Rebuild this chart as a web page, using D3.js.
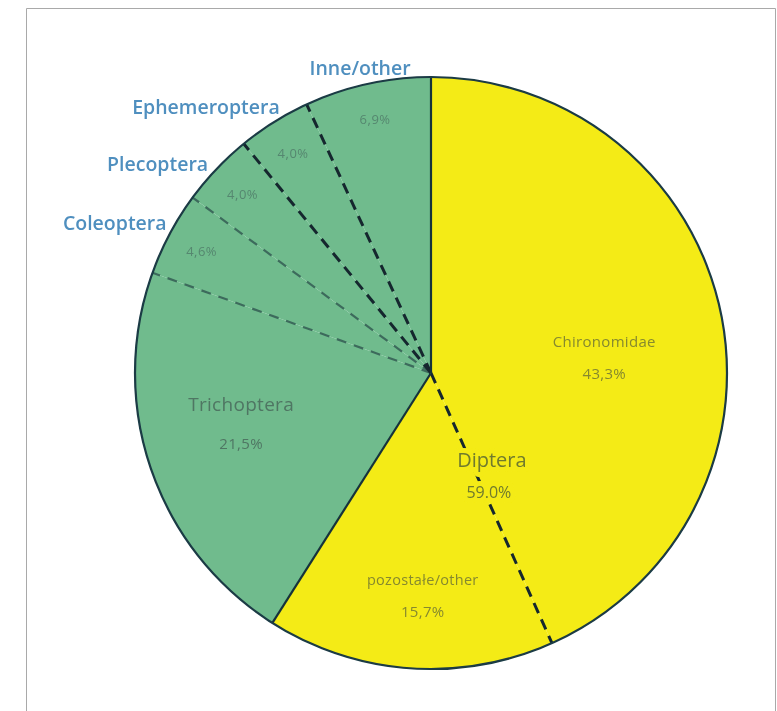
<!DOCTYPE html>
<html>
<head>
<meta charset="utf-8">
<script src="https://cdn.jsdelivr.net/npm/d3@7"></script>
<style>
  html, body { margin: 0; padding: 0; background: #fff; }
  svg { display: block; }
</style>
</head>
<body>
<svg id="chart" width="777" height="711"></svg>
<script>
// Taxa in drawing order, clockwise from 12 o'clock
const taxa = ["Chironomidae", "pozostałe/other", "Trichoptera", "Coleoptera", "Plecoptera", "Ephemeroptera", "Inne/other"];
const shares = [43.3, 15.7, 21.5, 4.6, 4.0, 4.0, 6.9];
const shareLabels = ["43,3%", "15,7%", "21,5%", "4,6%", "4,0%", "4,0%", "6,9%"];
const groups = ["Diptera", "Diptera", "other", "other", "other", "other", "other"];
const dipteraLabel = ["Diptera", "59.0%"];

const width = 777, height = 711;
const cx = 431, cy = 373, R = 296;
const font = "'Open Sans', 'DejaVu Sans', sans-serif";

const svg = d3.select("#chart");

// outer frame
svg.append("path")
  .attr("d", `M26.5,${height + 2} V8.5 H775.5 V${height + 2}`)
  .attr("fill", "none")
  .attr("stroke", "#a9a9a9")
  .attr("stroke-width", 1);

const defs = svg.append("defs");
const soft = defs.append("filter").attr("id", "soft")
  .attr("x", "-10%").attr("y", "-10%").attr("width", "120%").attr("height", "120%");
soft.append("feGaussianBlur").attr("stdDeviation", 0.75);
const softer = defs.append("filter").attr("id", "softer")
  .attr("x", "-5%").attr("y", "-5%").attr("width", "110%").attr("height", "110%");
softer.append("feGaussianBlur").attr("stdDeviation", 0.45);

const g = svg.append("g").attr("transform", `translate(${cx},${cy})`);
const marks = g.append("g").attr("filter", "url(#softer)");

const pie = d3.pie().sort(null).value(d => d.value);
const rows = taxa.map((t, i) => ({ name: t, value: shares[i], label: shareLabels[i], group: groups[i] }));
const arcs = pie(rows);
const arc = d3.arc().innerRadius(0).outerRadius(R);

const fill = d3.scaleOrdinal().domain(["Diptera", "other"]).range(["#f4eb16", "#6fbb8d"]);

// slices
marks.selectAll("path.slice")
  .data(arcs)
  .enter().append("path")
  .attr("class", "slice")
  .attr("d", arc)
  .attr("fill", d => fill(d.data.group))
  .attr("stroke", "none");

// radial point helper (angle measured clockwise from top)
const pt = (a, r) => [r * Math.sin(a), -r * Math.cos(a)];

// boundaries between slices: solid where the group changes, dashed inside a group
arcs.forEach((d, i) => {
  const next = arcs[(i + 1) % arcs.length];
  const [x, y] = pt(d.endAngle, R);
  const sameGroup = next.data.group === d.data.group;
  const line = marks.append("line")
    .attr("x1", 0).attr("y1", 0).attr("x2", x).attr("y2", y)
    .attr("stroke-linecap", "butt");
  if (!sameGroup) {
    line.attr("stroke", "#17323a").attr("stroke-width", 2.2);
  } else if (d.data.group === "Diptera" || i >= 4) {
    line.attr("stroke", "#14282e").attr("stroke-width", 3).attr("stroke-dasharray", "11,7");
  } else {
    line.attr("stroke", "#3d6b5c").attr("stroke-width", 2.2).attr("stroke-dasharray", "10,8");
  }
});

// outline
marks.append("circle")
  .attr("r", R)
  .attr("fill", "none")
  .attr("stroke", "#1a3a44")
  .attr("stroke-width", 2.2);

const labels = g.append("g").attr("filter", "url(#soft)").attr("font-family", font);

// labels inside the two large Diptera slices and Trichoptera
const mid = d => (d.startAngle + d.endAngle) / 2;
const insidePlacement = { 0: [0.12, 174], 1: [-0.035, 222], 2: [0.08, 196] };
const nameSize = { 0: 15, 1: 14.5, 2: 19 };
const valueSize = { 0: 15, 1: 15, 2: 15 };
[0, 1, 2].forEach(i => {
  const d = arcs[i];
  const [da, r] = insidePlacement[i];
  const [x, y] = pt(mid(d) + da, r);
  const color = d.data.group === "Diptera" ? "#86892e" : "#4f7663";
  const t = labels.append("text")
    .attr("text-anchor", "middle")
    .attr("fill", color)
    .attr("letter-spacing", 0.3);
  t.append("tspan").attr("x", x).attr("y", y - 10).attr("font-size", nameSize[i]).text(d.data.name);
  t.append("tspan").attr("x", x).attr("y", y + (i === 2 ? 28 : 22))
    .attr("font-size", valueSize[i]).text(d.data.label);
});

// small-slice percentages near the rim
arcs.slice(3).forEach(d => {
  const [x, y] = pt(mid(d), 260);
  labels.append("text")
    .attr("x", x).attr("y", y + 5)
    .attr("text-anchor", "middle")
    .attr("fill", "#55876f")
    .attr("font-size", 13)
    .attr("letter-spacing", 0.5)
    .text(d.data.label);
});

// names of the small slices, outside the rim
const nameShift = [[2, -1], [-4, 6], [9, -3], [-6, -3]];
arcs.slice(3).forEach((d, i) => {
  const a = mid(d);
  const top = Math.abs(Math.sin(a)) < 0.3;
  const [x, y] = pt(a, R + 6);
  labels.append("text")
    .attr("x", x + nameShift[i][0])
    .attr("y", y + nameShift[i][1])
    .attr("text-anchor", top ? "middle" : "end")
    .attr("fill", "#4f8fbf")
    .attr("font-weight", 600)
    .attr("font-size", 19.5)
    .text(d.data.name);
});

// group total, sitting on the dashed Diptera boundary
const [dx, dy] = pt(arcs[0].endAngle, 100);
const dl = labels.append("text")
  .attr("text-anchor", "middle")
  .attr("fill", "#6f7a2e")
  .attr("stroke", "#f4eb16")
  .attr("stroke-width", 10)
  .attr("paint-order", "stroke")
  .attr("stroke-linejoin", "round");
dl.append("tspan").attr("x", dx + 20).attr("y", dy + 3).attr("font-size", 20).text(dipteraLabel[0]);
dl.append("tspan").attr("x", dx + 17).attr("y", dy + 34).attr("font-size", 16).text(dipteraLabel[1]);
</script>
</body>
</html>
